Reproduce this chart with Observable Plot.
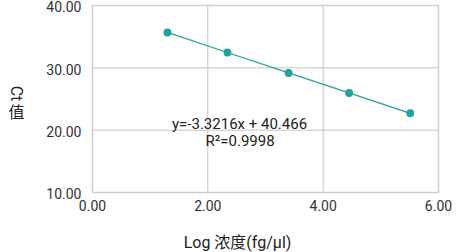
<!DOCTYPE html>
<html><head><meta charset="utf-8">
<script src="https://cdn.jsdelivr.net/npm/d3@7"></script>
<script src="https://cdn.jsdelivr.net/npm/@observablehq/plot@0.6"></script>
<style>
body{margin:0;background:#fff;font-family:Roboto,"Noto Sans CJK SC",sans-serif;}
</style></head>
<body><div id="chart"></div>
<script>
const logConc = [1.30, 2.34, 3.40, 4.45, 5.51];
const ctValues = [35.67, 32.46, 29.18, 25.97, 22.71];
const xTicks = [0, 2, 4, 6];
const yTicks = [10, 20, 30, 40];
const equation = "y=-3.3216x + 40.466";
const r2Label = "R²=0.9998";
const xLabel = "Log 浓度(fg/μl)";
const yLabelLatin = "Ct";
const yLabelCJK = "值";

const data = logConc.map((x, i) => ({x, y: ctValues[i]}));
const teal = "#23a19a";

const chart = Plot.plot({
  width: 460, height: 252,
  marginLeft: 92, marginRight: 22, marginTop: 5, marginBottom: 60,
  style: {fontFamily: "Roboto, 'Noto Sans CJK SC', sans-serif", fontSize: "14px", color: "#333", background: "#fff"},
  x: {domain: [0, 6], ticks: xTicks},
  y: {domain: [10, 40], ticks: yTicks},
  marks: [
    Plot.gridX(xTicks.slice(1, -1), {stroke: "#c4c4c4", strokeOpacity: 1}),
    Plot.gridY(yTicks.slice(1, -1), {stroke: "#c4c4c4", strokeOpacity: 1}),
    Plot.frame({stroke: "#cfcfcf", strokeWidth: 1.5}),
    Plot.axisX(xTicks, {tickSize: 0, tickPadding: 9, tickFormat: d => d.toFixed(2), fontSize: 14, fill: "#333", label: null}),
    Plot.axisY(yTicks, {tickSize: 0, tickPadding: 11, dy: 2.5, tickFormat: d => d.toFixed(2), fontSize: 14, fill: "#333", label: null}),
    Plot.line(data, {x: "x", y: "y", stroke: teal, strokeWidth: 1.3}),
    Plot.dot(data, {x: "x", y: "y", r: 3.2, fill: teal, stroke: teal}),
    Plot.text([equation], {x: 2.55, y: 20.95, text: d => d, fontSize: 15, fill: "#222"}),
    Plot.text([r2Label], {x: 2.56, y: 18.2, text: d => d, fontSize: 15, fill: "#222"}),
    Plot.text([xLabel], {frameAnchor: "bottom", textAnchor: "middle", lineAnchor: "middle", dx: -28, dy: 50, text: d => d, fontSize: 16, fill: "#222"}),
    Plot.text([yLabelLatin], {frameAnchor: "left", textAnchor: "middle", lineAnchor: "middle", dx: -76, dy: -5.5, rotate: 90, text: d => d, fontSize: 16, fill: "#222"}),
    Plot.text([yLabelCJK], {frameAnchor: "left", textAnchor: "middle", lineAnchor: "middle", dx: -76, dy: 14, text: d => d, fontSize: 16, fill: "#222"})
  ]
});
document.getElementById("chart").appendChild(chart);
</script>
</body></html>
